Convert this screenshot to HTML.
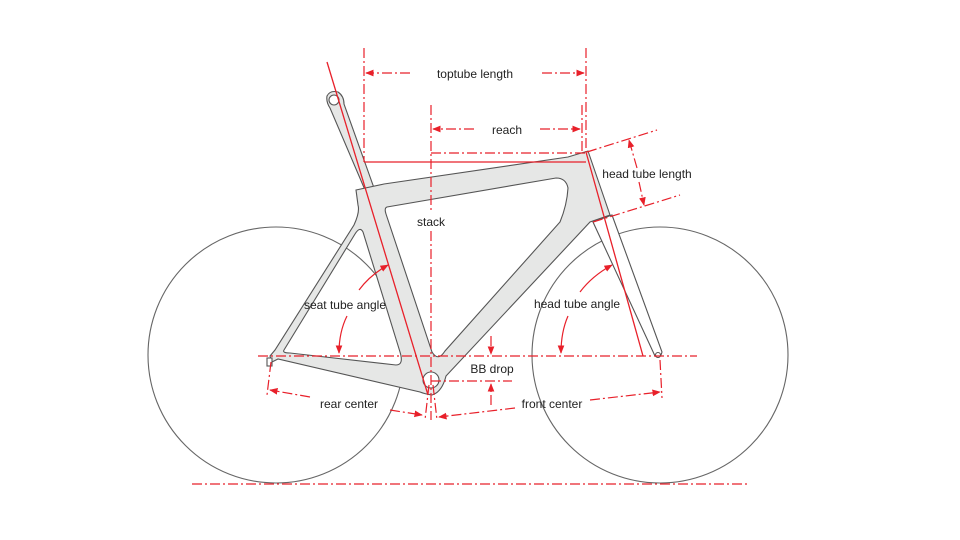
<!DOCTYPE html>
<html><head><meta charset="utf-8"><style>
html,body{margin:0;padding:0;background:#fff;}
svg{display:block;}
text{font-family:"Liberation Sans",Arial,sans-serif;font-size:12px;fill:#222;}
</style></head><body>
<svg width="960" height="540" viewBox="0 0 960 540" xmlns="http://www.w3.org/2000/svg">
<defs>
<marker id="a" viewBox="0 0 10 10" refX="9" refY="5" markerWidth="7" markerHeight="7" orient="auto-start-reverse"><path d="M0,1 L10,5 L0,9 z" fill="#e8202a"/></marker>
</defs>
<g fill="none" stroke="#666" stroke-width="1.1">
<circle cx="276" cy="355" r="128"/>
<circle cx="660" cy="355" r="128"/>
</g>
<g fill="#e6e7e6" stroke="#555" stroke-width="1.1">
<path d="M327,96 Q330,90 338,92 Q344,96 344,104 L374,188 L365,190 L330,108 Q326,102 327,96 z"/>
<circle cx="334" cy="100" r="5" fill="#fff"/>
<path d="M593,222 L612,215 L662,352 Q660,360 655,356 z" fill="#fff"/>
<circle cx="658" cy="355" r="2.5" fill="#fff"/>
<path fill-rule="evenodd" d="M356,190 L384,184 L568,157 L578,154 L588,151 L610,215 L590,222 L446,376 Q442,392 432,395 Q425,394 420,392 L278,359 L272,362 L270,356 L275,350 L354,225 Q360,212 358,205 z
M387,207 L556,178 Q566,178 568,188 Q567,205 560,222 L445,351 Q438,362 432,352 L386,214 Q384,208 387,207 z
M284,350 L355,234 Q360,226 363,232 L400,352 Q404,365 396,365 L290,353 Q282,353 284,350 z"/>
<circle cx="431" cy="380" r="8" fill="#fff"/>
<rect x="267" y="358" width="5" height="8" fill="#fff"/>
</g>
<g stroke="#e8202a" stroke-width="1.3" fill="none">
<line x1="327" y1="62" x2="428" y2="395"/>
<line x1="586" y1="152" x2="643" y2="356"/>
<line x1="364" y1="162" x2="586" y2="162"/>
</g>
<g stroke="#e8202a" stroke-width="1.2" fill="none" stroke-dasharray="10,3,2,3">
<line x1="192" y1="484" x2="748" y2="484"/>
<line x1="258" y1="356" x2="697" y2="356"/>
<line x1="364" y1="48" x2="364" y2="162"/>
<line x1="586" y1="48" x2="586" y2="152"/>
<line x1="582" y1="105" x2="582" y2="152"/>
<line x1="431" y1="105" x2="431" y2="420"/>
<line x1="431" y1="153" x2="585" y2="153"/>
<line x1="587" y1="152" x2="657" y2="130"/>
<line x1="593" y1="222" x2="680" y2="195"/>
<line x1="431" y1="381" x2="512" y2="381"/>
<line x1="271" y1="362" x2="267" y2="395"/>
<line x1="660" y1="360" x2="662" y2="398"/>
<line x1="429" y1="385" x2="425" y2="420"/>
<line x1="433" y1="385" x2="437" y2="420"/>
<line x1="410" y1="73" x2="366" y2="73" marker-end="url(#a)"/>
<line x1="542" y1="73" x2="584" y2="73" marker-end="url(#a)"/>
<line x1="474" y1="129" x2="433" y2="129" marker-end="url(#a)"/>
<line x1="540" y1="129" x2="580" y2="129" marker-end="url(#a)"/>
<line x1="637" y1="168" x2="629" y2="140" marker-end="url(#a)"/>
<line x1="639" y1="182" x2="644" y2="205" marker-end="url(#a)"/>
<line x1="491" y1="336" x2="491" y2="354" marker-end="url(#a)"/>
<line x1="491" y1="405" x2="491" y2="384" marker-end="url(#a)"/>
<line x1="310" y1="397" x2="270" y2="390" marker-end="url(#a)"/>
<line x1="390" y1="410" x2="422" y2="415" marker-end="url(#a)"/>
<line x1="515" y1="408" x2="439" y2="417" marker-end="url(#a)"/>
<line x1="590" y1="400" x2="660" y2="392" marker-end="url(#a)"/>
</g>
<g stroke="#e8202a" stroke-width="1.2" fill="none">
<path d="M359,290 Q370,275 388,265" marker-end="url(#a)"/>
<path d="M347,316 Q339,332 339,353" marker-end="url(#a)"/>
<path d="M580,292 Q592,276 612,265" marker-end="url(#a)"/>
<path d="M568,316 Q561,332 561,353" marker-end="url(#a)"/>
</g>
<rect x="416" y="213" width="30" height="16" fill="#fff"/>
<text x="475" y="78" text-anchor="middle">toptube length</text>
<text x="507" y="134" text-anchor="middle">reach</text>
<text x="431" y="226" text-anchor="middle">stack</text>
<text x="647" y="178" text-anchor="middle">head tube length</text>
<text x="345" y="309" text-anchor="middle">seat tube angle</text>
<text x="577" y="308" text-anchor="middle">head tube angle</text>
<text x="492" y="373" text-anchor="middle">BB drop</text>
<text x="349" y="408" text-anchor="middle">rear center</text>
<text x="552" y="408" text-anchor="middle">front center</text>
</svg>
</body></html>
